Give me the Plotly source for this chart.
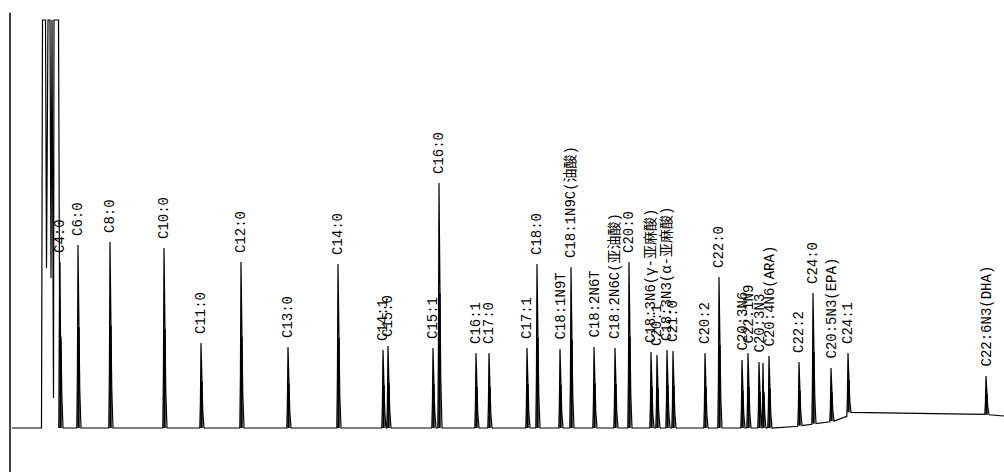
import numpy as np
import plotly.graph_objects as go

# ---- data (retention time in min, signal in arbitrary units) ----
peak_names = [
    "C4:0", "C6:0", "C8:0", "C10:0", "C11:0", "C12:0", "C13:0", "C14:0",
    "C14:1", "C15:0", "C15:1", "C16:0", "C16:1", "C17:0", "C17:1", "C18:0",
    "C18:1N9T", "C18:1N9C(油酸)", "C18:2N6T", "C18:2N6C(亚油酸)", "C20:0",
    "C18:3N6(γ-亚麻酸)", "C20:1", "C18:3N3(α-亚麻酸)", "C21:0", "C20:2", "C22:0",
    "C20:3N6", "C22:1N9", "C20:3N3", "", "C20:4N6(ARA)", "C22:2", "C24:0",
    "C20:5N3(EPA)", "C24:1", "C22:6N3(DHA)",
]
peak_rt = [
    2.00, 2.72, 4.00, 6.16, 7.64, 9.24, 11.12, 13.12,
    14.92, 15.12, 16.92, 17.16, 18.64, 19.16, 20.68, 21.08,
    22.00, 22.44, 23.36, 24.20, 24.76,
    25.64, 25.88, 26.28, 26.52, 27.80, 28.36,
    29.28, 29.52, 29.96, 30.12, 30.36, 31.56, 32.12,
    32.84, 33.52, 39.04,
]
peak_signal = [
    166, 183, 186, 180, 85, 166, 81, 164,
    78, 82, 80, 245, 75, 75, 80, 164,
    79, 161, 81, 80, 166,
    76, 73, 78, 77, 75, 151,
    68, 75, 66, 65, 72, 66, 135,
    60, 75, 52,
]

# solvent front (detector saturated at the top)
solvent_rt = [1.26, 1.30, 1.42, 1.46, 1.52, 1.60, 1.64, 1.68, 1.74, 1.76, 1.94, 1.98]
solvent_signal = [0, 408, 408, 160, 408, 408, 150, 408, 30, 408, 408, 140]

# baseline drift
baseline_rt = [0.0, 31.0, 33.3, 33.7, 36.0, 38.8, 39.76]
baseline_signal = [0, 0, 8, 17, 16, 14, 12]

# ---- build trace ----
px = 1 / 25.0  # one screen pixel in minutes (style constant for peak width)
xs = [0.08, solvent_rt[0]]
ys = [0, 0]
xs += solvent_rt[1:]
ys += solvent_signal[1:]

def base(t):
    return float(np.interp(t, baseline_rt, baseline_signal))

tail_x, tail_y = [], []
for rt, h in zip(peak_rt, peak_signal):
    b_l = base(rt - 1.5 * px)
    b_r = base(rt + 3.0 * px)
    xs += [rt - 1.2 * px, rt - 0.6 * px, rt, rt + 0.5 * px, rt + 1.2 * px, rt + 1.8 * px, rt + 3.0 * px]
    ys += [b_l, b_l + 0.3 * (h - b_l), h, b_r + 0.55 * (h - b_r), b_r + 0.45 * (h - b_r),
           b_r + 0.2 * (h - b_r), b_r]
    tail_x += [rt + 0.5 * px, rt + 0.5 * px, None]
    tail_y += [b_r, b_r + 0.55 * (h - b_r), None]

xs += [39.76]
ys += [base(39.76)]

fig = go.Figure()
fig.add_trace(go.Scatter(x=xs, y=ys, mode="lines",
                         line=dict(color="black", width=1.2), hoverinfo="skip"))
fig.add_trace(go.Scatter(x=tail_x, y=tail_y, mode="lines",
                         line=dict(color="black", width=2.4), hoverinfo="skip"))

for name, rt, h in zip(peak_names, peak_rt, peak_signal):
    if not name:
        continue
    fig.add_annotation(x=rt, y=h + 7, text=name, showarrow=False, textangle=-90,
                       xanchor="center", yanchor="bottom",
                       font=dict(family="Liberation Mono, Noto Sans CJK SC", size=14, color="black"))

fig.add_shape(type="line", xref="paper", yref="paper", x0=0, x1=0, y0=0, y1=0.973,
              line=dict(color="black", width=1.5))

fig.update_layout(
    width=1004, height=472,
    margin=dict(l=10, r=0, t=0, b=0),
    paper_bgcolor="white", plot_bgcolor="white",
    showlegend=False,
    xaxis=dict(range=[0, 39.76], visible=False),
    yaxis=dict(range=[-44, 428], visible=False),
)
fig.write_html("out.html", config={"displayModeBar": False},
               post_script="document.body.style.margin='0';document.body.style.overflow='hidden';")
